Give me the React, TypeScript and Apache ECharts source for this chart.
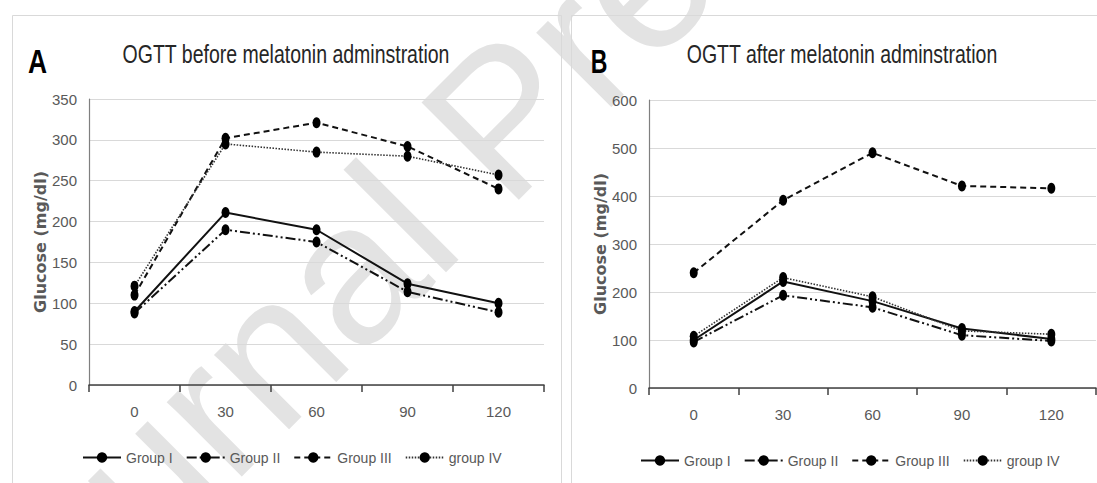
import React, { useEffect, useRef } from "react";
import * as echarts from "echarts";

const categories = ["0", "30", "60", "90", "120"];
const seriesNames = ["Group I", "Group II", "Group III", "group IV"];

const beforeGroupI = [90, 211, 190, 124, 100];
const beforeGroupII = [88, 190, 175, 114, 89];
const beforeGroupIII = [110, 302, 321, 292, 240];
const beforeGroupIV = [121, 295, 285, 280, 257];

const afterGroupI = [100, 222, 181, 124, 102];
const afterGroupII = [96, 193, 168, 110, 98];
const afterGroupIII = [240, 391, 490, 421, 416];
const afterGroupIV = [108, 230, 190, 119, 112];

const titleA = "OGTT before melatonin adminstration";
const titleB = "OGTT after melatonin adminstration";
const yTitle = "Glucose (mg/dl)";
const watermark = "Journal Pre-proof";

const SANS = "'Liberation Sans', Arial, sans-serif";

const lineStyles: any[] = [
  { color: "#111", width: 2, type: "solid" },
  { color: "#111", width: 2, type: [10, 3, 2, 3, 2, 3] },
  { color: "#111", width: 2, type: [6, 4] },
  { color: "#333", width: 1.6, type: [1.5, 1.5] },
];

export default function App() {
  const ref = useRef<HTMLDivElement>(null);
  useEffect(() => {
    if (!ref.current) return;
    const chart = echarts.init(ref.current, null, { renderer: "svg" });
    const before = [beforeGroupI, beforeGroupII, beforeGroupIII, beforeGroupIV];
    const after = [afterGroupI, afterGroupII, afterGroupIII, afterGroupIV];
    const mk = (data: number[], i: number, idx: number) => ({
      name: seriesNames[i],
      type: "line",
      xAxisIndex: idx,
      yAxisIndex: idx,
      data,
      symbol: "circle",
      symbolSize: [8, 11],
      itemStyle: { color: "#000" },
      lineStyle: lineStyles[i],
      z: 5,
    });
    const xAxisCommon = (gi: number) => ({
      type: "category",
      gridIndex: gi,
      data: categories,
      boundaryGap: true,
      axisLine: { show: true, lineStyle: { color: "#404040", width: 1.5 } },
      axisTick: { show: true, length: 7, alignWithLabel: false, lineStyle: { color: "#404040", width: 1.5 } },
      axisLabel: { color: "#595959", fontSize: 15, fontFamily: SANS, margin: 19 },
      splitLine: { show: false },
    });
    const yAxisCommon = (gi: number, max: number, interval: number, gap: number) => ({
      type: "value",
      gridIndex: gi,
      min: 0,
      max,
      interval,
      name: yTitle,
      nameLocation: "middle",
      nameRotate: 90,
      nameGap: gap,
      nameTextStyle: { color: "#595959", fontSize: 16, fontWeight: "bold", fontFamily: "'DejaVu Sans', sans-serif" },
      axisLine: { show: true, lineStyle: { color: "#7f7f7f", width: 1.2 } },
      axisTick: { show: false },
      axisLabel: { color: "#595959", fontSize: 15, fontFamily: SANS, margin: 12 },
      splitLine: { show: true, lineStyle: { color: "#d9d9d9", width: 1 } },
    });
    const legendCommon = (left: number, top: number) => ({
      show: true,
      left,
      top,
      orient: "horizontal",
      itemWidth: 38,
      itemHeight: 13,
      itemGap: 13,
      data: seriesNames,
      textStyle: { color: "#595959", fontSize: 14, fontFamily: SANS },
      selectedMode: false,
    });
    const txt = (text: string, x: number, y: number, size: number, bold: boolean, sx: number, fill: string) => ({
      type: "text",
      x,
      y,
      scaleX: sx,
      style: {
        text,
        fontSize: size,
        fontWeight: bold ? "bold" : "normal",
        fontFamily: SANS,
        fill,
        align: "center",
        verticalAlign: "middle",
      },
    });
    chart.setOption({
      animation: false,
      backgroundColor: "#fff",
      grid: [
        { left: 89, right: 553, top: 99, bottom: 98 },
        { left: 649, right: 1, top: 100, bottom: 95 },
      ],
      xAxis: [xAxisCommon(0), xAxisCommon(1)],
      yAxis: [yAxisCommon(0, 350, 50, 40), yAxisCommon(1, 600, 100, 41)],
      legend: [legendCommon(77, 445.5), legendCommon(635, 448.5)],
      series: [
        ...before.map((d, i) => mk(d, i, 0)),
        ...after.map((d, i) => mk(d, i, 1)),
      ],
      graphic: [
        {
          type: "text",
          x: -45,
          y: 665,
          rotation: Math.PI / 4,
          z: -10,
          silent: true,
          style: {
            text: watermark,
            fontSize: 200,
            fontFamily: SANS,
            fill: "#e3e3e3",
            align: "left",
            verticalAlign: "middle",
          },
        },
        {
          type: "rect",
          shape: { x: 12.5, y: 15.5, width: 549, height: 520 },
          style: { fill: "none", stroke: "#d9d9d9", lineWidth: 1 },
          silent: true,
          z: -5,
        },
        {
          type: "rect",
          shape: { x: 571.5, y: 15.5, width: 600, height: 520 },
          style: { fill: "none", stroke: "#d9d9d9", lineWidth: 1 },
          silent: true,
          z: -5,
        },
        txt("A", 37.5, 61, 33, true, 0.8, "#000"),
        txt("B", 599, 61, 33, true, 0.7, "#000"),
        txt(titleA, 286, 55, 25, false, 0.78, "#262626"),
        txt(titleB, 842, 55, 25, false, 0.78, "#262626"),
      ],
    });
    return () => chart.dispose();
  }, []);
  return <div ref={ref} style={{ width: 1097, height: 483, position: "absolute", left: 0, top: 0 }} />;
}
